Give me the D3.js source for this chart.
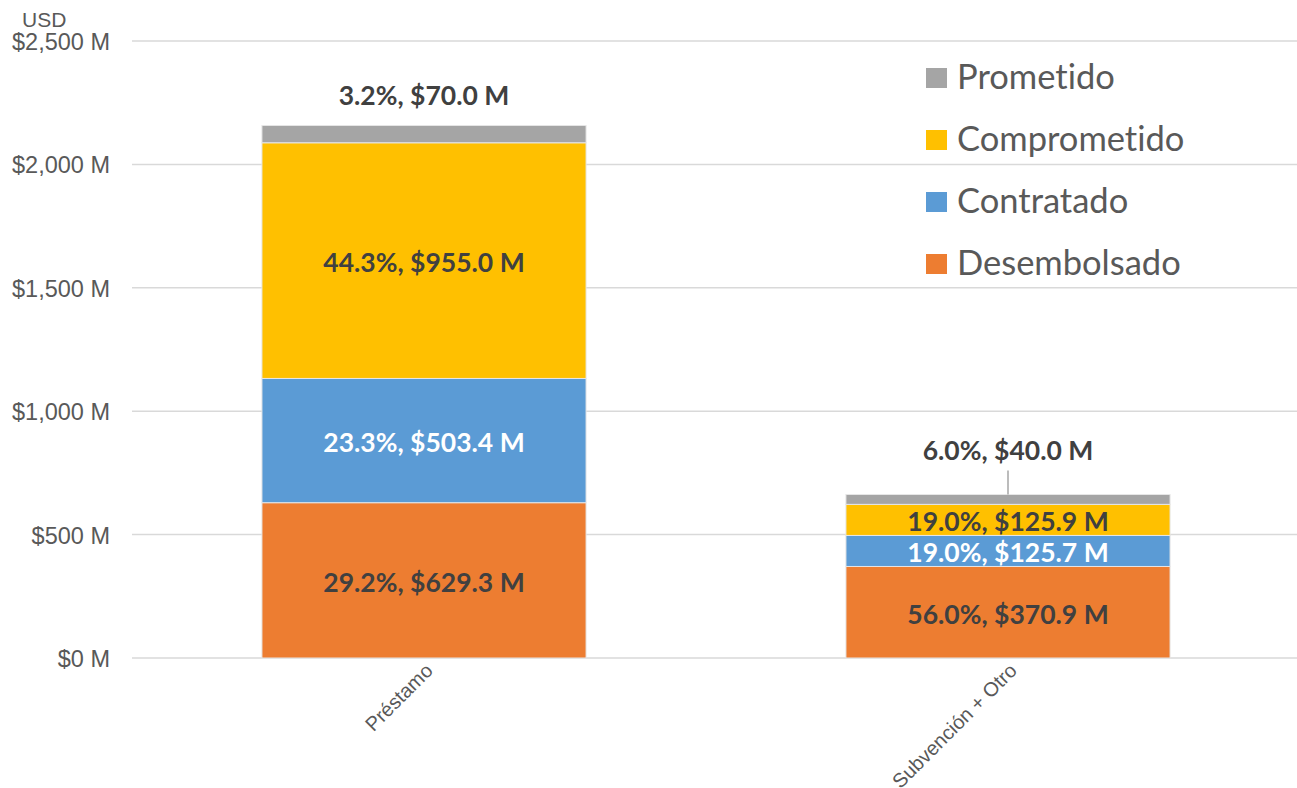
<!DOCTYPE html>
<html>
<head>
<meta charset="utf-8">
<script src="https://cdn.jsdelivr.net/npm/d3@7"></script>
<style>
  body { margin: 0; background: #fff; }
  svg { display: block; }
  text { font-variant-ligatures: none; }
  .tick text { font-family: "Liberation Sans", Arial, sans-serif; }
</style>
</head>
<body>
<div id="chart"></div>
<script>
// Chart data
// ==============================
var categories = ["Préstamo", "Subvención + Otro"];
var seriesNames = ["Desembolsado", "Contratado", "Comprometido", "Prometido"];
var desembolsado = [629.3, 370.9];
var contratado = [503.4, 125.7];
var comprometido = [955.0, 125.9];
var prometido = [70.0, 40.0];
var percentages = {
  Desembolsado: ["29.2%", "56.0%"],
  Contratado: ["23.3%", "19.0%"],
  Comprometido: ["44.3%", "19.0%"],
  Prometido: ["3.2%", "6.0%"]
};
var yTicks = [0, 500, 1000, 1500, 2000, 2500];

var colors = {
  Desembolsado: "#ED7D31",
  Contratado: "#5B9BD5",
  Comprometido: "#FFC000",
  Prometido: "#A5A5A5"
};

// SVG area
// ==============================
var svgWidth = 1297;
var svgHeight = 788;
var plot = { left: 132, right: 1300, top: 41, bottom: 658 };

var svg = d3.select("#chart")
  .append("svg")
  .attr("width", svgWidth)
  .attr("height", svgHeight);

// Build table for stack
var table = categories.map(function(c, i) {
  return {
    category: c,
    Desembolsado: desembolsado[i],
    Contratado: contratado[i],
    Comprometido: comprometido[i],
    Prometido: prometido[i]
  };
});

var stacked = d3.stack().keys(seriesNames)(table);

// Scales
var xScale = d3.scaleBand()
  .domain(categories)
  .range([plot.left, plot.right])
  .paddingInner(0.445)
  .paddingOuter(0.2225);

var yScale = d3.scaleLinear()
  .domain([0, 2500])
  .range([plot.bottom, plot.top]);

// Gridlines
svg.append("g")
  .selectAll("line")
  .data(yTicks)
  .enter().append("line")
  .attr("x1", plot.left)
  .attr("x2", svgWidth)
  .attr("y1", d => yScale(d))
  .attr("y2", d => yScale(d))
  .attr("stroke", "#d9d9d9")
  .attr("stroke-width", 1.5);

// Y axis
var yAxis = d3.axisLeft(yScale)
  .tickValues(yTicks)
  .tickSize(0)
  .tickPadding(22)
  .tickFormat(d => "$" + d3.format(",")(d) + " M");

var yAxisG = svg.append("g")
  .attr("transform", `translate(${plot.left}, 0)`)
  .call(yAxis);
yAxisG.select(".domain").remove();
yAxisG.selectAll("text")
  .attr("font-size", 23.5)
  .attr("fill", "#595959")
  .attr("dy", "0.36em");

svg.append("text")
  .attr("x", 22)
  .attr("y", 27)
  .attr("font-family", "Liberation Sans, Arial, sans-serif")
  .attr("font-size", 21)
  .attr("fill", "#595959")
  .text("USD");

// Bars
var layers = svg.append("g")
  .selectAll("g")
  .data(stacked)
  .enter().append("g")
  .attr("fill", d => colors[d.key]);

layers.selectAll("rect")
  .data(d => d)
  .enter().append("rect")
  .attr("x", d => xScale(d.data.category))
  .attr("y", d => yScale(d[1]))
  .attr("width", xScale.bandwidth())
  .attr("height", d => yScale(d[0]) - yScale(d[1]))
  .attr("stroke", "#e6e6e6")
  .attr("stroke-width", 1);

// Data labels
var labelFont = "Lato, 'Noto Sans', sans-serif";
var calloutLift = [30, 44];

stacked.forEach(function(layer) {
  layer.forEach(function(d, i) {
    var cx = xScale(d.data.category) + xScale.bandwidth() / 2;
    var txt = percentages[layer.key][i] + ", $" + d3.format(".1f")(d[1] - d[0]) + " M";
    var y;
    if (layer.key === "Prometido") {
      y = yScale(d[1]) - calloutLift[i];
      if (i === 1) {
        svg.append("line")
          .attr("x1", cx).attr("x2", cx)
          .attr("y1", y + 20).attr("y2", yScale(d[1]))
          .attr("stroke", "#a6a6a6")
          .attr("stroke-width", 1.5);
      }
    } else {
      y = (yScale(d[0]) + yScale(d[1])) / 2 + 2;
    }
    svg.append("text")
      .attr("x", cx)
      .attr("y", y)
      .attr("dy", "0.36em")
      .attr("text-anchor", "middle")
      .attr("font-family", labelFont)
      .attr("font-weight", "bold")
      .attr("font-size", 26.5)
      .attr("fill", layer.key === "Contratado" ? "#ffffff" : "#404040")
      .text(txt);
  });
});

// Category labels
svg.append("g")
  .selectAll("text")
  .data(categories)
  .enter().append("text")
  .attr("transform", d => `translate(${xScale(d) + xScale.bandwidth() / 2 + 10}, 672) rotate(-45)`)
  .attr("text-anchor", "end")
  .attr("font-family", "Liberation Sans, Arial, sans-serif")
  .attr("font-size", 20)
  .attr("fill", "#595959")
  .text(d => d);

// Legend
var legendOrder = ["Prometido", "Comprometido", "Contratado", "Desembolsado"];
var legend = svg.append("g")
  .selectAll("g")
  .data(legendOrder)
  .enter().append("g")
  .attr("transform", (d, i) => `translate(926, ${68 + i * 62})`);

legend.append("rect")
  .attr("width", 21)
  .attr("height", 20)
  .attr("fill", d => colors[d]);

legend.append("text")
  .attr("x", 31)
  .attr("y", 9)
  .attr("dy", "0.36em")
  .attr("font-family", labelFont)
  .attr("font-size", 34.5)
  .attr("fill", "#595959")
  .text(d => d);
</script>
</body>
</html>
